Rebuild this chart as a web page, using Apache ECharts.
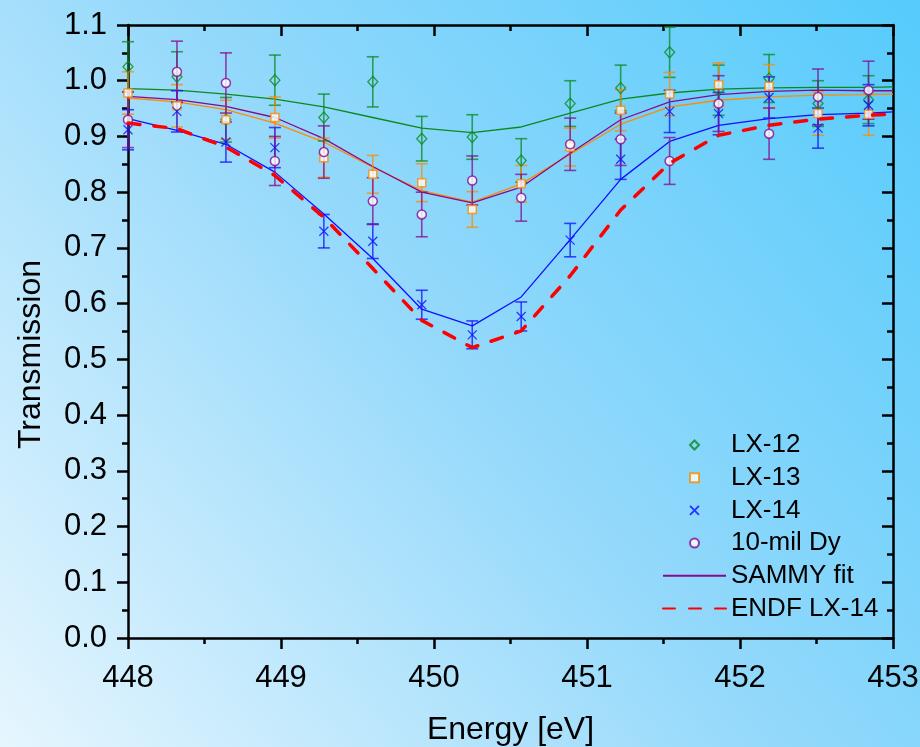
<!DOCTYPE html>
<html>
<head>
<meta charset="utf-8">
<script src="https://cdn.jsdelivr.net/npm/echarts@6/dist/echarts.min.js"></script>
<style>
html,body{margin:0;padding:0;}
#chart{width:920px;height:747px;}
</style>
</head>
<body>
<div id="chart"></div>
<script>
// ---- data ----
const energy = [448.00, 448.32, 448.64, 448.96, 449.28, 449.60, 449.92, 450.25,
                450.57, 450.89, 451.22, 451.54, 451.86, 452.19, 452.51, 452.84];
const lx12    = [1.025, 1.007, 0.930, 1.001, 0.934, 0.998, 0.896, 0.899, 0.857, 0.959, 0.987, 1.051, 0.983, 1.004, 0.959, 0.966];
const lx12Err = [0.045, 0.045, 0.040, 0.045, 0.042, 0.045, 0.040, 0.040, 0.039, 0.041, 0.041, 0.045, 0.045, 0.043, 0.041, 0.043];
const lx13    = [0.978, 0.955, 0.930, 0.934, 0.862, 0.832, 0.817, 0.769, 0.815, 0.881, 0.947, 0.976, 0.993, 0.990, 0.941, 0.940];
const lx13Err = [0.038, 0.038, 0.035, 0.037, 0.035, 0.034, 0.034, 0.032, 0.033, 0.034, 0.037, 0.039, 0.039, 0.039, 0.039, 0.038];
const lx14    = [0.912, 0.945, 0.890, 0.880, 0.730, 0.712, 0.598, 0.544, 0.577, 0.714, 0.859, 0.945, 0.941, 0.970, 0.915, 0.956];
const lx14Err = [0.036, 0.037, 0.036, 0.036, 0.030, 0.031, 0.026, 0.025, 0.026, 0.030, 0.036, 0.038, 0.038, 0.037, 0.036, 0.037];
const dy10    = [0.930, 1.016, 0.996, 0.856, 0.872, 0.784, 0.760, 0.821, 0.790, 0.886, 0.895, 0.856, 0.959, 0.905, 0.971, 0.983];
const dy10Err = [0.050, 0.055, 0.054, 0.044, 0.047, 0.042, 0.040, 0.044, 0.042, 0.047, 0.047, 0.042, 0.050, 0.046, 0.050, 0.052];

const fitEnergy = [448.00, 448.32, 448.64, 448.96, 449.28, 449.60, 449.92, 450.25,
                   450.57, 450.89, 451.22, 451.54, 451.86, 452.19, 452.51, 452.84, 453.00];
const fit12  = [0.986, 0.983, 0.976, 0.967, 0.953, 0.934, 0.915, 0.907, 0.917, 0.942, 0.967, 0.978, 0.985, 0.987, 0.988, 0.988, 0.989];
const fit13  = [0.969, 0.962, 0.948, 0.924, 0.890, 0.845, 0.803, 0.782, 0.815, 0.868, 0.922, 0.953, 0.965, 0.971, 0.974, 0.975, 0.976];
const fit14  = [0.932, 0.911, 0.886, 0.836, 0.761, 0.681, 0.590, 0.560, 0.612, 0.715, 0.823, 0.891, 0.920, 0.932, 0.939, 0.942, 0.944];
const fitDy  = [0.972, 0.966, 0.954, 0.934, 0.896, 0.846, 0.800, 0.781, 0.809, 0.870, 0.930, 0.962, 0.975, 0.981, 0.983, 0.982, 0.982];
const endf14 = [0.924, 0.914, 0.881, 0.830, 0.755, 0.663, 0.570, 0.521, 0.551, 0.650, 0.768, 0.852, 0.902, 0.920, 0.931, 0.938, 0.940];

const xTicks = [448, 449, 450, 451, 452, 453];
const legendNames = ['LX-12', 'LX-13', 'LX-14', '10-mil Dy', 'SAMMY fit', 'ENDF LX-14'];

// ---- styling ----
const FONT = "'Liberation Sans', Arial, sans-serif";
const GREEN = '#0a8a1e', ORANGE = '#ff8a00', BLUE = '#1010ff', PURPLE = '#850a8f', RED = '#ff0000';
const NONE = 'rgba(0,0,0,0)';

function pairs(xs, ys) { return xs.map((x, i) => [x, ys[i]]); }

function errSeries(name, ys, es, color) {
  return {
    type: 'custom', name: name, z: 3, silent: true, clip: false,
    data: energy.map((x, i) => [x, ys[i] - es[i], ys[i] + es[i]]),
    encode: { x: 0, y: [1, 2] },
    renderItem: function (params, api) {
      const lo = api.coord([api.value(0), api.value(1)]);
      const hi = api.coord([api.value(0), api.value(2)]);
      const hw = 6;
      const st = { stroke: color, lineWidth: 1.6, opacity: 0.75 };
      return {
        type: 'group',
        children: [
          { type: 'line', shape: { x1: lo[0], y1: lo[1], x2: hi[0], y2: hi[1] }, style: st },
          { type: 'line', shape: { x1: lo[0] - hw, y1: lo[1], x2: lo[0] + hw, y2: lo[1] }, style: st },
          { type: 'line', shape: { x1: hi[0] - hw, y1: hi[1], x2: hi[0] + hw, y2: hi[1] }, style: st }
        ]
      };
    }
  };
}

function fitSeries(name, ys, color, width, dash, z) {
  return {
    type: 'line', name: name, z: z || 2, symbol: 'none', silent: true,
    data: pairs(fitEnergy, ys),
    lineStyle: { color: color, width: width, type: dash || 'solid', cap: dash ? 'round' : 'butt' },
    itemStyle: { color: NONE, borderColor: NONE, borderWidth: 0 }
  };
}

const chart = echarts.init(document.getElementById('chart'), null, { renderer: 'canvas' });

const axisBlack = { color: '#000', width: 2.5 };

chart.setOption({
  animation: false,
  backgroundColor: {
    type: 'linear', x: 0, y: 1, x2: 1, y2: 0,
    colorStops: [
      { offset: 0, color: '#e6f6fe' },
      { offset: 0.5, color: '#95d9fb' },
      { offset: 1, color: '#55cbfc' }
    ]
  },
  textStyle: { fontFamily: FONT },
  grid: { left: 128, right: 27, top: 25, bottom: 109, containLabel: false, outerBoundsMode: 'none' },
  legend: {
    data: legendNames,
    orient: 'vertical', left: 657, top: 427,
    itemWidth: 63, itemHeight: 9, itemGap: 6.7,
    selectedMode: false, symbolKeepAspect: true,
    textStyle: { fontSize: 26, color: '#000', fontFamily: FONT, lineHeight: 25 }
  },
  xAxis: [{
    type: 'value', position: 'bottom', min: 448, max: 453, interval: 1,
    axisLine: { show: true, onZero: false, lineStyle: axisBlack },
    axisTick: { show: true, inside: false, length: 11, lineStyle: axisBlack },
    minorTick: { show: true, splitNumber: 2, length: 6, lineStyle: axisBlack },
    splitLine: { show: false },
    axisLabel: { fontSize: 31, color: '#000', margin: 25, fontFamily: FONT,
                 formatter: v => xTicks.includes(v) ? String(v) : '' },
    name: 'Energy [eV]', nameLocation: 'middle', nameGap: 76,
    nameTextStyle: { fontSize: 32, color: '#000', fontFamily: FONT }
  }, {
    type: 'value', position: 'top', min: 448, max: 453, interval: 1,
    axisLine: { show: true, onZero: false, lineStyle: axisBlack },
    axisTick: { show: true, inside: true, length: 11, lineStyle: axisBlack },
    minorTick: { show: true, splitNumber: 2, length: 6, lineStyle: axisBlack },
    splitLine: { show: false }, axisLabel: { show: false }
  }],
  yAxis: [{
    type: 'value', position: 'left', min: 0, max: 1.1, interval: 0.1,
    axisLine: { show: true, onZero: false, lineStyle: axisBlack },
    axisTick: { show: true, inside: false, length: 11, lineStyle: axisBlack },
    minorTick: { show: true, splitNumber: 2, length: 6, lineStyle: axisBlack },
    splitLine: { show: false },
    axisLabel: { fontSize: 31, color: '#000', margin: 21, fontFamily: FONT,
                 formatter: v => v.toFixed(1) },
    name: 'Transmission', nameLocation: 'middle', nameGap: 81,
    nameTextStyle: { fontSize: 32, color: '#000', fontFamily: FONT, padding: [0, 46, 0, 0] }
  }, {
    type: 'value', position: 'right', min: 0, max: 1.1, interval: 0.1,
    axisLine: { show: true, onZero: false, lineStyle: axisBlack },
    axisTick: { show: true, inside: true, length: 11, lineStyle: axisBlack },
    minorTick: { show: true, splitNumber: 2, length: 6, lineStyle: axisBlack },
    splitLine: { show: false }, axisLabel: { show: false }
  }],
  series: [
    fitSeries('LX-12 fit', fit12, GREEN, 1.3),
    fitSeries('LX-13 fit', fit13, ORANGE, 1.3),
    fitSeries('LX-14 fit', fit14, BLUE, 1.3),
    fitSeries('SAMMY fit', fitDy, PURPLE, 1.3),
    errSeries('LX-12 err', lx12, lx12Err, GREEN),
    errSeries('LX-13 err', lx13, lx13Err, ORANGE),
    errSeries('LX-14 err', lx14, lx14Err, BLUE),
    errSeries('10-mil Dy err', dy10, dy10Err, PURPLE),
    {
      type: 'scatter', name: 'LX-12', z: 4, clip: false, silent: true,
      data: pairs(energy, lx12), symbol: 'path://M5,0L10,5L5,10L0,5Z', symbolSize: [10, 11],
      itemStyle: { color: NONE, borderColor: GREEN, borderWidth: 1.3 }
    },
    {
      type: 'scatter', name: 'LX-13', z: 4, clip: false, silent: true,
      data: pairs(energy, lx13), symbol: 'path://M0,0H10V10H0Z', symbolSize: 8,
      itemStyle: { color: '#ffffff', borderColor: ORANGE, borderWidth: 1.5 }
    },
    {
      type: 'scatter', name: 'LX-14', z: 4, clip: false, silent: true,
      data: pairs(energy, lx14), symbol: 'path://M0,0L10,10M10,0L0,10', symbolSize: 9,
      itemStyle: { color: NONE, borderColor: BLUE, borderWidth: 1.3 }
    },
    {
      type: 'scatter', name: '10-mil Dy', z: 4, clip: false, silent: true,
      data: pairs(energy, dy10), symbol: 'circle', symbolSize: 9,
      itemStyle: { color: '#ffffff', borderColor: PURPLE, borderWidth: 1.5 }
    },
    fitSeries('ENDF LX-14', endf14, RED, 3.5, [12, 14], 5)
  ]
});
</script>
</body>
</html>
